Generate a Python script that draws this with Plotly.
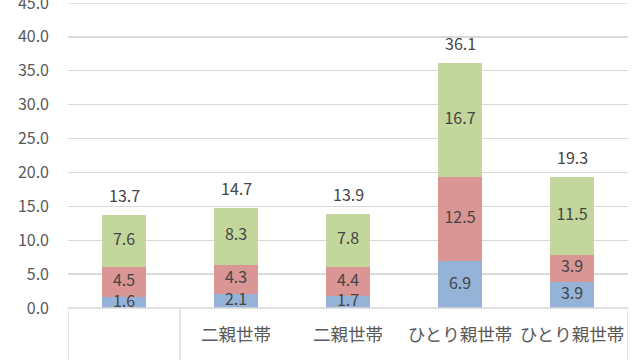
import plotly.graph_objects as go

categories = ["", "二親世帯", "二親世帯", "ひとり親世帯", "ひとり親世帯"]
blue_vals = [1.6, 2.1, 1.7, 6.9, 3.9]
red_vals = [4.5, 4.3, 4.4, 12.5, 3.9]
green_vals = [7.6, 8.3, 7.8, 16.7, 11.5]
totals = [13.7, 14.7, 13.9, 36.1, 19.3]
y_ticks = [0, 5, 10, 15, 20, 25, 30, 35, 40, 45]

xs = list(range(len(categories)))
FONT = "Noto Sans CJK JP"
TXT = "#454545"

fig = go.Figure()
colors = ["#95b3d7", "#d99694", "#c3d69b"]
series = [blue_vals, red_vals, green_vals]
base = [0.0] * len(xs)
for vals, col in zip(series, colors):
    fig.add_trace(go.Bar(x=xs, y=vals, marker=dict(color=col, line=dict(width=0)),
                         width=0.4, showlegend=False, hoverinfo="skip"))
    mids = [b + v / 2 for b, v in zip(base, vals)]
    fig.add_trace(go.Scatter(x=xs, y=mids, mode="text",
                             text=[f"{v:.1f}" for v in vals],
                             textfont=dict(family=FONT, size=16, color=TXT),
                             showlegend=False, hoverinfo="skip", cliponaxis=False))
    base = [b + v for b, v in zip(base, vals)]

for x, t in zip(xs, totals):
    fig.add_annotation(x=x, y=t, text=f"{t:.1f}", showarrow=False,
                       yanchor="bottom", yshift=6,
                       font=dict(family=FONT, size=16, color=TXT))

# category-axis box lines
line_col = "#d9d9d9"
for xv in [-0.5, 0.5, 4.5]:
    fig.add_shape(type="line", xref="x", yref="paper", x0=xv, x1=xv, y0=0, y1=-0.2,
                  line=dict(color=line_col, width=1.3))
fig.add_shape(type="line", xref="x", yref="paper", x0=-0.5, x1=4.5, y0=0, y1=0,
              line=dict(color=line_col, width=1.3))
fig.add_shape(type="line", xref="x", yref="y", x0=-0.5, x1=4.5, y0=y_ticks[-1], y1=y_ticks[-1],
              line=dict(color=line_col, width=1.3), layer="below")

fig.update_layout(
    width=640, height=360,
    margin=dict(l=68, r=12, t=3, b=52),
    paper_bgcolor="white", plot_bgcolor="white",
    barmode="stack",
    xaxis=dict(range=[-0.5, 4.5], tickmode="array", tickvals=xs, ticktext=categories,
               showgrid=False, zeroline=False, showline=False, ticks="",
               automargin=False, ticklabelstandoff=14,
               tickfont=dict(family=FONT, size=17.5, color="#595959")),
    yaxis=dict(range=[0, 45], tickmode="array", tickvals=y_ticks,
               ticktext=[f"{v:.1f}" for v in y_ticks],
               showgrid=True, gridcolor=line_col, gridwidth=1.3, zeroline=False,
               ticks="", ticklabelstandoff=18, automargin=False,
               ticklabeloverflow="allow",
               tickfont=dict(family=FONT, size=16, color="#595959")),
    bargap=0.6,
)

fig.write_html("out.html", config={"displayModeBar": False, "staticPlot": True},
               post_script="document.body.style.margin='0';")
